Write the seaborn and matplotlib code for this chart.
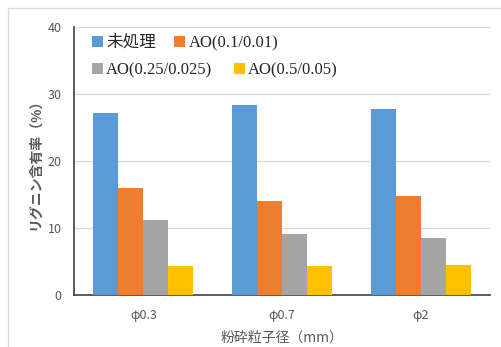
import matplotlib
matplotlib.use("Agg")
import matplotlib.pyplot as plt
import matplotlib.patches as mpatches
import seaborn as sns
import pandas as pd

# Lignin content by grinding particle size and treatment
sizes = ["φ0.3", "φ0.7", "φ2"]
treatments = ["未処理", "AO(0.1/0.01)", "AO(0.25/0.025)", "AO(0.5/0.05)"]
untreated = [27.2, 28.4, 27.7]
ao_01 = [15.9, 14.1, 14.8]
ao_025 = [11.2, 9.1, 8.5]
ao_05 = [4.3, 4.3, 4.5]
colors = ["#5B9BD5", "#ED7D31", "#A5A5A5", "#FFC000"]
y_ticks = [0, 10, 20, 30, 40]

rows = []
for t, vals in zip(treatments, [untreated, ao_01, ao_025, ao_05]):
    for s, v in zip(sizes, vals):
        rows.append({"size": s, "treatment": t, "value": v})
df = pd.DataFrame(rows)

sns.set_theme(style="white")
plt.rcParams["font.family"] = ["Noto Sans CJK JP", "DejaVu Sans"]

fig = plt.figure(figsize=(5.02, 3.47), dpi=100)
ax = fig.add_axes([74 / 502, 1 - 295 / 347, 416 / 502, 268 / 347])

sns.barplot(data=df, x="size", y="value", hue="treatment", order=sizes,
            hue_order=treatments, palette=colors, width=0.72, gap=0,
            saturation=1, errorbar=None, linewidth=0, ax=ax, zorder=3)
if ax.get_legend() is not None:
    ax.get_legend().remove()

ax.set_ylim(0, 40)
ax.set_yticks(y_ticks)
ax.set_xlim(-0.5, 2.5)
ax.yaxis.grid(True, color="#D9D9D9", lw=0.9, zorder=0)
ax.set_axisbelow(True)
for side in ["top", "right"]:
    ax.spines[side].set_visible(False)
for side in ["left", "bottom"]:
    ax.spines[side].set_color("#404040")
    ax.spines[side].set_linewidth(1.2)
ax.tick_params(axis="both", length=0, colors="#595959", labelsize=9)
ax.tick_params(axis="y", pad=9)
ax.tick_params(axis="x", pad=10)

ax.set_xlabel("粉砕粒子径（mm）", color="#595959", fontsize=10, labelpad=6)
ax.set_ylabel("リグニン含有率（%）", color="#595959", fontsize=10,
              fontweight="bold", labelpad=4)

# Two legend rows, each laid out independently
handles = [mpatches.Patch(color=c, label=t, linewidth=0)
           for c, t in zip(colors, treatments)]
legend_font = {"family": ["Liberation Serif", "Noto Sans CJK JP"], "size": 12}
common = dict(frameon=False, ncol=2, handlelength=0.65, handleheight=0.65,
              handletextpad=0.2, borderpad=0, borderaxespad=0,
              prop=legend_font, loc="center left")
leg1 = ax.legend(handles=handles[:2], columnspacing=1.1,
                 bbox_to_anchor=((92 - 74) / 416, 1 - (43 - 27) / 268), **common)
ax.add_artist(leg1)
ax.legend(handles=handles[2:], columnspacing=1.3,
          bbox_to_anchor=((92 - 74) / 416, 1 - (70 - 27) / 268), **common)

# Chart-area border
fig.patches.append(mpatches.Rectangle((8 / 502, -0.1), 1.2, 1.1 - 8 / 347,
                                      transform=fig.transFigure, fill=False,
                                      edgecolor="#D9D9D9", lw=1.0))

fig.savefig("out.png", dpi=100)
